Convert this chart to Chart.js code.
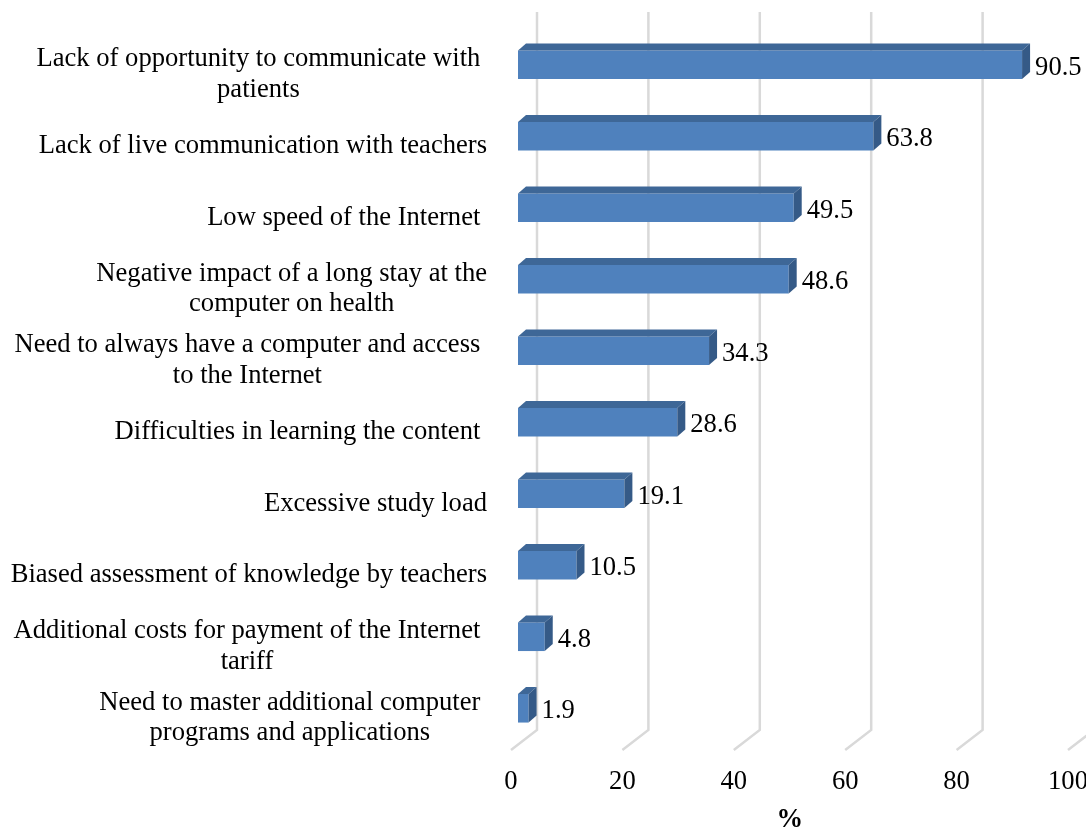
<!DOCTYPE html>
<html>
<head>
<meta charset="utf-8">
<title>Disadvantages of distance learning</title>
<script src="https://cdn.jsdelivr.net/npm/chart.js@4.4.1/dist/chart.umd.min.js"></script>
<style>
  html, body { margin: 0; padding: 0; background: #fff; }
  #wrap { width: 1086px; height: 828px; position: relative; }
</style>
</head>
<body>
<div id="wrap"><canvas id="chart"></canvas></div>
<script>
// data
const categories = [
  ["Lack of opportunity to communicate with ", "patients"],
  ["Lack of live communication with teachers"],
  ["Low speed of the Internet "],
  ["Negative impact of a long stay at the", "computer on health"],
  ["Need to always have a computer and access ", "to the Internet"],
  ["Difficulties in learning the content "],
  ["Excessive study load"],
  ["Biased assessment of knowledge by teachers"],
  ["Additional costs for payment of the Internet ", "tariff"],
  ["Need to master additional computer ", "programs and applications"]
];
const values = [90.5, 63.8, 49.5, 48.6, 34.3, 28.6, 19.1, 10.5, 4.8, 1.9];
const xTicks = [0, 20, 40, 60, 80, 100];
const axisTitle = "%";

const FONT = "'Liberation Serif', 'Times New Roman', serif";
const SIZE = 26.6;
const FRONT = "#4f81bd";
const TOP = "#3e6797";
const SIDE = "#355a87";
const DX = 8, DY = 7;        // bar depth
const WALL = 19, FLOOR = -7; // back wall / front floor shift

Chart.defaults.font.family = FONT;
Chart.defaults.color = "#000";

// back wall gridlines with the floor diagonal
const wallPlugin = {
  id: "wall",
  beforeDatasetsDraw(chart) {
    const { ctx, chartArea, scales: { x } } = chart;
    const yBack = chartArea.bottom - 14;
    const yFront = chartArea.bottom + 6;
    ctx.save();
    ctx.strokeStyle = "#d9d9d9";
    ctx.lineWidth = 2.5;
    xTicks.forEach(v => {
      const px = x.getPixelForValue(v);
      ctx.beginPath();
      ctx.moveTo(px + WALL, 12);
      ctx.lineTo(px + WALL, yBack);
      ctx.lineTo(px + FLOOR, yFront);
      ctx.stroke();
    });
    ctx.restore();
  }
};

// top and side faces + value labels
const boxPlugin = {
  id: "box",
  afterDatasetsDraw(chart) {
    const { ctx } = chart;
    const meta = chart.getDatasetMeta(0);
    ctx.save();
    meta.data.forEach((bar, i) => {
      const { x, y, base, height } = bar.getProps(["x", "y", "base", "height"], true);
      const t = y - height / 2, b = y + height / 2;
      ctx.fillStyle = TOP;
      ctx.beginPath();
      ctx.moveTo(base, t);
      ctx.lineTo(base + DX, t - DY);
      ctx.lineTo(x + DX, t - DY);
      ctx.lineTo(x, t);
      ctx.closePath();
      ctx.fill();
      ctx.fillStyle = SIDE;
      ctx.beginPath();
      ctx.moveTo(x, t);
      ctx.lineTo(x + DX, t - DY);
      ctx.lineTo(x + DX, b - DY);
      ctx.lineTo(x, b);
      ctx.closePath();
      ctx.fill();

      ctx.fillStyle = "#000";
      ctx.font = SIZE + "px " + FONT;
      ctx.textAlign = "left";
      ctx.textBaseline = "middle";
      ctx.fillText(values[i].toFixed(1), x + DX + 5, y + 3);
    });
    ctx.restore();
  }
};

// category labels: block right aligned, lines centred
const labelPlugin = {
  id: "catLabels",
  afterDraw(chart) {
    const { ctx, scales: { y } } = chart;
    const right = 487, lh = 30.5;
    ctx.save();
    ctx.font = SIZE + "px " + FONT;
    ctx.fillStyle = "#000";
    ctx.textAlign = "center";
    ctx.textBaseline = "middle";
    categories.forEach((lines, i) => {
      const raw = Math.max(...lines.map(l => ctx.measureText(l).width));
      const trim = Math.max(...lines.map(l => ctx.measureText(l.trimEnd()).width));
      const cx = right - raw + trim / 2;
      const cy = y.getPixelForValue(i) + 10;
      lines.forEach((l, k) => {
        ctx.fillText(l.trimEnd(), cx, cy + (k - (lines.length - 1) / 2) * lh);
      });
    });
    ctx.restore();
  }
};

new Chart(document.getElementById("chart"), {
  type: "bar",
  data: {
    labels: categories,
    datasets: [{
      data: values,
      backgroundColor: FRONT,
      borderWidth: 0,
      categoryPercentage: 1,
      barPercentage: 0.4
    }]
  },
  options: {
    indexAxis: "y",
    responsive: true,
    maintainAspectRatio: false,
    animation: false,
    events: [],
    layout: { padding: { left: 518, right: 11, top: 29, bottom: 0 } },
    plugins: { legend: { display: false }, tooltip: { enabled: false } },
    scales: {
      y: { display: false },
      x: {
        min: 0,
        max: 100,
        afterBuildTicks: s => { s.ticks = xTicks.map(v => ({ value: v })); },
        afterFit: s => { s.paddingLeft = 0; s.paddingRight = 0; s.height = 84; },
        grid: { display: false, drawTicks: false },
        border: { display: false },
        ticks: { font: { size: SIZE }, padding: 22, labelOffset: FLOOR, maxRotation: 0 },
        title: { display: true, text: axisTitle + "  ", font: { size: SIZE, weight: "bold" }, padding: { top: 0, bottom: -8 } }
      }
    }
  },
  plugins: [wallPlugin, boxPlugin, labelPlugin]
});
</script>
</body>
</html>
